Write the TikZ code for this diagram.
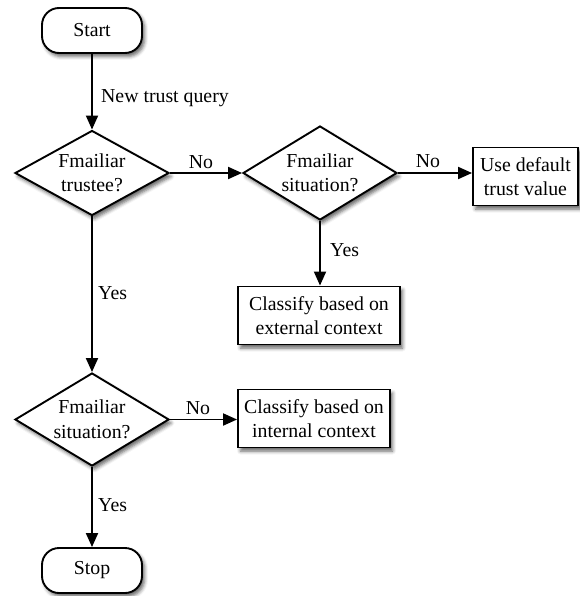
\documentclass[tikz,border=0pt]{standalone}
\usepackage{fontspec}
\setmainfont{Liberation Serif}
\usetikzlibrary{shapes.geometric,arrows.meta,shadows.blur}
\begin{document}
\begin{tikzpicture}[x=1pt,y=-1pt,
  font=\fontsize{19.8}{24.5}\selectfont,
  base/.style={draw=black, line width=1.9pt, fill=white, align=center, inner sep=0pt,
    blur shadow={shadow xshift=2.5pt, shadow yshift=-3.5pt, shadow blur radius=3.5pt, shadow opacity=60}},
  terminal/.style={base, rectangle, rounded corners=17pt, minimum width=100pt, minimum height=45pt},
  decision/.style={base, diamond, shape aspect=1.64, minimum width=154pt, minimum height=#1},
  process/.style={base, rectangle, minimum height=58pt},
  flow/.style={line width=1.9pt, -{Triangle[length=14pt,width=12pt]}},
  lbl/.style={inner sep=0pt, text depth=0pt}
]
\useasboundingbox (0,0) rectangle (579,596);

% flowchart nodes
\node[terminal] (start) at (92,30.5) {Start};
\node[decision=85pt] (trustee) at (92,173) {Fmailiar\\trustee?};
\node[decision=94pt] (sitA) at (320,173) {Fmailiar\\situation?};
\node[process, minimum width=105pt] (default) at (525.5,176.5) {Use default\\trust value};
\node[process, minimum width=162pt] (external) at (319,315.5) {Classify based on\\external context};
\node[decision=93pt] (sitB) at (92,419.5) {Fmailiar\\situation?};
\node[process, minimum width=152pt] (internal) at (314,418.5) {Classify based on\\internal context};
\node[terminal] (stop) at (92,570.5) {Stop};

% connectors
\draw[flow] (start) -- (trustee);
\draw[flow] (trustee.east) -- (trustee.east -| sitA.west);
\draw[flow] (sitA.east) -- (sitA.east -| default.west);
\draw[flow] (sitA.south) -- (sitA.south |- external.north);
\draw[flow] (trustee) -- (sitB);
\draw[flow] (sitB.east) -- (sitB.east -| internal.west);
\draw[flow] (sitB) -- (stop);

% connector labels
\node[lbl, anchor=west] (lquery) at (101,96) {New trust query};
\node[lbl] (lno1) at (201,162) {No};
\node[lbl] (lno2) at (428,161) {No};
\node[lbl] (lno3) at (198,408) {No};
\node[lbl, anchor=west] (lyes1) at (330,250) {Yes};
\node[lbl, anchor=west] (lyes2) at (98,293) {Yes};
\node[lbl, anchor=west] (lyes3) at (98,505) {Yes};
\end{tikzpicture}
\end{document}
